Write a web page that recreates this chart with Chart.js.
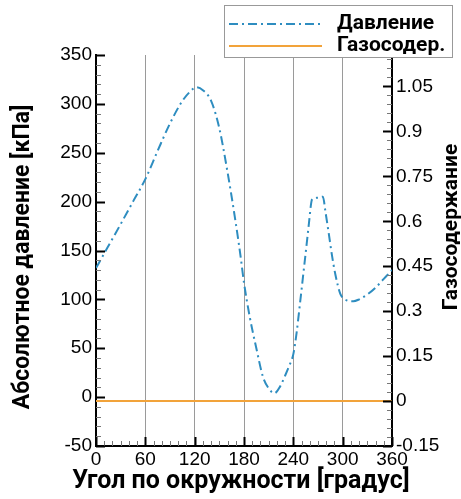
<!DOCTYPE html>
<html>
<head>
<meta charset="utf-8">
<script src="https://cdn.jsdelivr.net/npm/chart.js@4"></script>
<style>
  html, body { margin: 0; padding: 0; background: #fff; }
</style>
</head>
<body>
<canvas id="chart" width="461" height="499"></canvas>
<script>
// угол по окружности, градусы
const angles = [0, 10, 20, 30, 45, 60, 75, 90, 105, 115, 122, 130, 140, 150, 160, 170, 176, 180, 187, 195,
  203, 210, 217, 224, 230, 235, 240, 244, 248, 252, 256, 259, 262, 264, 270, 276, 279, 283, 287, 291,
  297, 305, 313, 320, 330, 340, 350, 360];
// абсолютное давление, кПа
const pressure = [132, 147, 162, 177, 200, 223, 252, 280, 303, 313, 317, 314, 303, 275, 230, 178, 143, 117, 82, 50,
  21, 9, 4, 11, 22, 32, 44, 66, 95, 125, 155, 178, 200, 203, 204, 205, 190, 168, 145, 126,
  106, 99, 98, 100, 105, 112, 121, 130];
// газосодержание
const gasAngles = [0, 360];
const gasContent = [0, 0];

const xTicks = [0, 60, 120, 180, 240, 300, 360];
const leftTicks = [-50, 0, 50, 100, 150, 200, 250, 300, 350];
const rightTicks = [-0.15, 0, 0.15, 0.3, 0.45, 0.6, 0.75, 0.9, 1.05];

const BLUE = '#2e8dc0';
const ORANGE = '#f2a33a';
const FONT = '"Liberation Sans", Arial, Helvetica, sans-serif';
const BOLD_FONT = 'Roboto, "Liberation Sans", Arial, sans-serif';

// засечки внутрь графика (основные и промежуточные)
const tickMarks = {
  id: 'tickMarks',
  afterDraw(chart) {
    const { ctx, chartArea: a, scales } = chart;
    ctx.save();
    const mark = (scale, step, len, side) => {
      const k0 = Math.ceil(scale.min / step - 1e-6);
      const k1 = Math.floor(scale.max / step + 1e-6);
      for (let k = k0; k <= k1; k++) {
        const p = Math.round(scale.getPixelForValue(k * step)) + 0.5;
        ctx.beginPath();
        if (side === 'bottom') { ctx.moveTo(p, a.bottom); ctx.lineTo(p, a.bottom - len); }
        if (side === 'left') { ctx.moveTo(a.left, p); ctx.lineTo(a.left + len, p); }
        if (side === 'right') { ctx.moveTo(a.right, p); ctx.lineTo(a.right - len, p); }
        ctx.stroke();
      }
    };
    ctx.strokeStyle = '#777';
    ctx.lineWidth = 1;
    mark(scales.x, 10, 5, 'bottom');
    mark(scales.y, 10, 5, 'left');
    mark(scales.y1, 0.03, 5, 'right');
    ctx.strokeStyle = '#000';
    ctx.lineWidth = 2;
    mark(scales.x, 60, 9, 'bottom');
    mark(scales.y, 50, 9, 'left');
    mark(scales.y1, 0.15, 9, 'right');
    ctx.restore();
  }
};

// подписи осей (без сжатия по ширине области графика)
const axisTitles = {
  id: 'axisTitles',
  afterDraw(chart) {
    const ctx = chart.ctx;
    const put = (text, x, y, size, rotated) => {
      ctx.save();
      ctx.translate(x, y);
      if (rotated) ctx.rotate(-Math.PI / 2);
      ctx.fillStyle = '#000';
      ctx.font = 'bold ' + size + 'px ' + BOLD_FONT;
      ctx.textAlign = 'center';
      ctx.textBaseline = 'middle';
      ctx.fillText(text, 0, 0);
      ctx.restore();
    };
    put('Угол по окружности [градус]', 241, 482, 25, false);
    put('Абсолютное давление [кПа]', 23, 257, 23, true);
    put('Газосодержание', 452, 227, 21, true);
  }
};

// легенда в рамке сверху справа
const boxLegend = {
  id: 'boxLegend',
  afterDraw(chart) {
    const ctx = chart.ctx;
    ctx.save();
    ctx.fillStyle = '#fff';
    ctx.fillRect(224, 5, 228, 52);
    ctx.strokeStyle = '#999';
    ctx.lineWidth = 1;
    ctx.strokeRect(224.5, 5.5, 228, 52);
    chart.data.datasets.forEach((ds, i) => {
      const y = 24 + i * 22;
      ctx.strokeStyle = ds.borderColor;
      ctx.lineWidth = 2;
      ctx.setLineDash(ds.borderDash || []);
      ctx.beginPath();
      ctx.moveTo(229, y);
      ctx.lineTo(322, y);
      ctx.stroke();
      ctx.setLineDash([]);
      ctx.fillStyle = '#000';
      ctx.font = 'bold 21px ' + BOLD_FONT;
      ctx.textBaseline = 'middle';
      ctx.fillText(ds.label, 337, y);
    });
    ctx.restore();
  }
};

new Chart(document.getElementById('chart'), {
  type: 'line',
  data: {
    datasets: [
      {
        label: 'Давление',
        data: angles.map((a, i) => ({ x: a, y: pressure[i] })),
        borderColor: BLUE,
        borderWidth: 2,
        borderDash: [9, 4, 2, 4],
        pointRadius: 0,
        cubicInterpolationMode: 'monotone',
        yAxisID: 'y'
      },
      {
        label: 'Газосодер.',
        data: gasAngles.map((a, i) => ({ x: a, y: gasContent[i] })),
        borderColor: ORANGE,
        borderWidth: 2,
        pointRadius: 0,
        yAxisID: 'y1'
      }
    ]
  },
  options: {
    responsive: false,
    animation: false,
    layout: { padding: { top: 55, left: 0, right: 0, bottom: 0 } },
    plugins: { legend: { display: false }, tooltip: { enabled: false } },
    scales: {
      x: {
        type: 'linear',
        min: 0,
        max: 360,
        afterBuildTicks: (s) => { s.ticks = xTicks.map(v => ({ value: v })); },
        afterFit: (s) => { s.height = 53; },
        ticks: { autoSkip: false, maxRotation: 0, padding: 2, color: '#000', font: { family: FONT, size: 19 } },
        grid: {
          drawTicks: false,
          color: (c) => (c.tick && (c.tick.value === 0 || c.tick.value === 360)) ? 'rgba(0,0,0,0)' : '#9a9a9a',
          lineWidth: 1
        },
        border: { display: true, color: '#000', width: 2 },
        title: { display: false }
      },
      y: {
        position: 'left',
        min: -50,
        max: 350,
        afterBuildTicks: (s) => { s.ticks = leftTicks.map(v => ({ value: v })); },
        afterFit: (s) => { s.width = 96; },
        ticks: { padding: 4, color: '#000', font: { family: FONT, size: 19 } },
        grid: { drawOnChartArea: false, drawTicks: false },
        border: { display: true, color: '#000', width: 2 },
        title: { display: false }
      },
      y1: {
        position: 'right',
        min: -0.15,
        max: 1.155,
        afterBuildTicks: (s) => { s.ticks = rightTicks.map(v => ({ value: v })); },
        afterFit: (s) => { s.width = 69; },
        ticks: {
          padding: 4,
          color: '#000',
          font: { family: FONT, size: 19 },
          callback: (v) => String(Math.round(v * 100) / 100)
        },
        grid: { drawOnChartArea: false, drawTicks: false },
        border: { display: true, color: '#000', width: 2 },
        title: { display: false }
      }
    }
  },
  plugins: [tickMarks, axisTitles, boxLegend]
});
</script>
</body>
</html>
